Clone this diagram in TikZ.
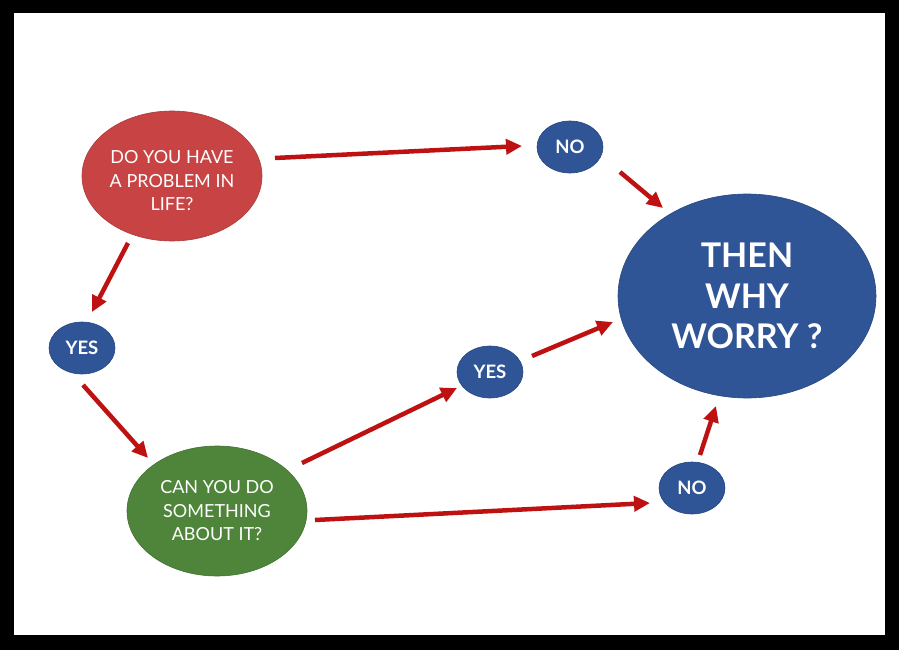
\documentclass[tikz,border=0pt]{standalone}
\usepackage{fontspec}
\setmainfont{Lato}
\usetikzlibrary{shapes.geometric,arrows.meta}
\definecolor{cred}{RGB}{200,68,68}
\definecolor{cgreen}{RGB}{78,133,58}
\definecolor{cblue}{RGB}{47,85,151}
\definecolor{carrow}{RGB}{190,18,18}
\tikzset{
  x=1pt,y=-1pt,
  bigq/.style={ellipse, inner sep=0pt, text=white, align=center,
    font=\fontsize{18}{23.5}\selectfont, minimum width=180pt, minimum height=130pt},
  small/.style={ellipse, inner sep=0pt, fill=cblue, draw=cblue!85!black, line width=0.6pt,
    text=white, font=\fontsize{18.5}{20}\selectfont\bfseries,
    minimum width=66pt, minimum height=52pt},
  arr/.style={draw=carrow, line width=4.5pt,
    -{Triangle[length=16pt,width=15pt]}}
}
\begin{document}
\begin{tikzpicture}
\useasboundingbox (0,0) rectangle (899,650);
\fill[black] (0,0) rectangle (899,650);
\fill[white] (14,13) rectangle (885,635);

\node[bigq, fill=cred, draw=cred!85!black, line width=0.6pt] (q1) at (172,176)
  {\raisebox{-11pt}[0pt][0pt]{\setlength{\tabcolsep}{0pt}\begin{tabular}{c}DO YOU HAVE\\A PROBLEM IN\\LIFE?\end{tabular}}};
\node[bigq, fill=cgreen, draw=cgreen!85!black, line width=0.6pt] (q2) at (217,511)
  {CAN YOU DO\\SOMETHING\\ABOUT IT?};
\node[ellipse, inner sep=0pt, fill=cblue, draw=cblue!85!black, line width=0.6pt,
  minimum width=258pt, minimum height=204pt, text=white, align=center,
  font=\fontsize{34}{40.5}\selectfont\bfseries] (end) at (747,296)
  {THEN\\WHY\\WORRY ?};
\node[small] (no1) at (570,147) {NO};
\node[small] (yes1) at (82,348) {YES};
\node[small] (yes2) at (490,372) {YES};
\node[small] (no2) at (692,488) {NO};

\draw[arr] ([shift={(103,-18)}]q1.center) -- ([shift={(-48,-1)}]no1.center);
\draw[arr] ([shift={(50,25)}]no1.center) -- ([shift={(-84,-88)}]end.center);
\draw[arr] ([shift={(-44,67)}]q1.center) -- ([shift={(10,-36)}]yes1.center);
\draw[arr] ([shift={(1,37)}]yes1.center) -- ([shift={(-69,-53)}]q2.center);
\draw[arr] ([shift={(85,-48)}]q2.center) -- ([shift={(-33,16)}]yes2.center);
\draw[arr] ([shift={(42,-16)}]yes2.center) -- ([shift={(-134,26)}]end.center);
\draw[arr] ([shift={(98,9)}]q2.center) -- ([shift={(-42,15)}]no2.center);
\draw[arr] ([shift={(8,-33)}]no2.center) -- ([shift={(-31,110)}]end.center);
\end{tikzpicture}
\end{document}
